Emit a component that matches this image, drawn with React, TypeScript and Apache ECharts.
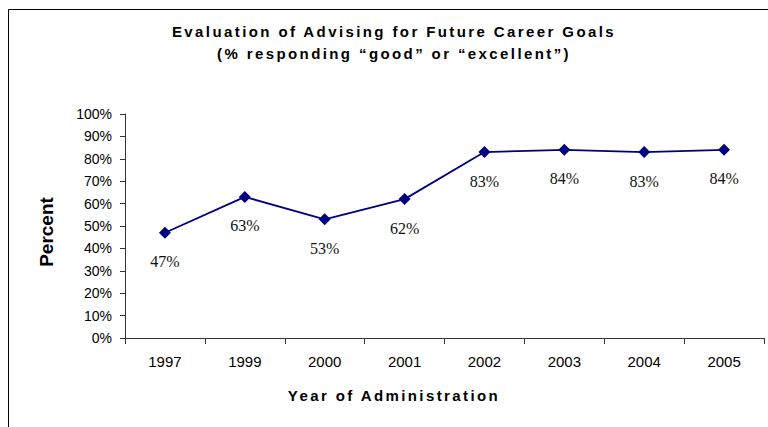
import React, { useEffect, useRef } from "react";
import * as echarts from "echarts";

const years = ["1997", "1999", "2000", "2001", "2002", "2003", "2004", "2005"];
const percents = [47, 63, 53, 62, 83, 84, 83, 84];
const yMin = 0;
const yMax = 100;
const yStep = 10;

const titleLine1 = "Evaluation of Advising for Future Career Goals";
const titleLine2 = "(% responding \u201cgood\u201d or \u201cexcellent\u201d)";
const xName = "Year of Administration";
const yName = "Percent";

const SPACED = [titleLine1, titleLine2, xName];

export default function App() {
  const ref = useRef<HTMLDivElement>(null);

  useEffect(() => {
    document.body.style.margin = "0";
    const el = ref.current;
    if (!el) return;
    const chart = echarts.init(el, undefined, { renderer: "svg" });

    const boldText = {
      fontFamily: "Liberation Sans",
      fontWeight: "bold",
      fontSize: 15,
      fill: "#000",
      align: "center",
      verticalAlign: "middle",
    };

    const option: any = {
      animation: false,
      backgroundColor: "#fff",
      grid: { left: 125, top: 114, right: 4, bottom: 89, containLabel: false },
      graphic: [
        {
          type: "rect",
          silent: true,
          shape: { x: 8.5, y: 9.5, width: 800, height: 500 },
          style: { fill: "none", stroke: "#000", lineWidth: 1 },
        },
        { type: "text", x: 394, y: 31, style: { ...boldText, text: titleLine1 } },
        { type: "text", x: 394, y: 53, style: { ...boldText, text: titleLine2 } },
        { type: "text", x: 394, y: 395, style: { ...boldText, text: xName } },
      ],
      xAxis: {
        type: "category",
        data: years,
        boundaryGap: true,
        axisLine: { show: true, lineStyle: { color: "#333", width: 1 } },
        axisTick: { show: true, length: 6, interval: 0, lineStyle: { color: "#333" } },
        axisLabel: {
          interval: 0,
          margin: 16,
          fontFamily: "Liberation Sans",
          fontSize: 15,
          color: "#000",
        },
        splitLine: { show: false },
      },
      yAxis: {
        type: "value",
        min: yMin,
        max: yMax,
        interval: yStep,
        name: yName,
        nameLocation: "middle",
        nameGap: 69,
        nameRotate: 90,
        nameTextStyle: {
          fontFamily: "Liberation Sans",
          fontWeight: "bold",
          fontSize: 19,
          color: "#000",
          padding: [0, 12, 0, 0],
        },
        axisLine: { show: true, lineStyle: { color: "#333", width: 1 } },
        axisTick: { show: true, length: 5, lineStyle: { color: "#333" } },
        axisLabel: {
          formatter: "{value}%",
          margin: 13,
          fontFamily: "Liberation Sans",
          fontSize: 14,
          color: "#000",
        },
        splitLine: { show: false },
      },
      series: [
        {
          type: "line",
          data: percents,
          color: "#000080",
          lineStyle: { color: "#000080", width: 1.8 },
          itemStyle: { color: "#000080" },
          symbol: "diamond",
          symbolSize: 12,
          label: {
            show: true,
            position: "bottom",
            distance: 15,
            formatter: "{c}%",
            fontFamily: "Liberation Serif",
            fontSize: 16,
            color: "#111",
          },
        },
      ],
    };

    const applySpacing = () => {
      el.querySelectorAll("text").forEach((t) => {
        if (SPACED.includes(t.textContent || "")) {
          (t as SVGTextElement).style.letterSpacing = "2.4px";
        }
      });
    };
    chart.on("finished", applySpacing);
    chart.setOption(option);
    applySpacing();

    return () => {
      chart.dispose();
    };
  }, []);

  return <div ref={ref} style={{ width: 768, height: 427 }} />;
}
